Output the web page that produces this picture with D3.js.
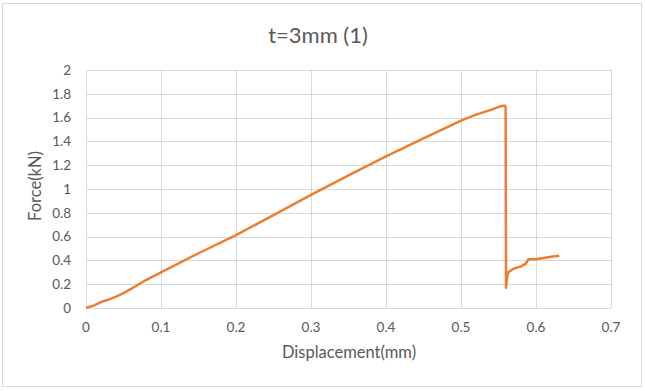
<!DOCTYPE html>
<html>
<head>
<meta charset="utf-8">
<script src="https://cdn.jsdelivr.net/npm/d3@7"></script>
<style>
  body { margin: 0; background: #fff; }
  text { font-family: Lato, "Open Sans", sans-serif; fill: #595959; }
</style>
</head>
<body>
<div id="chart"></div>
<script>
var title = "t=3mm (1)";
var xLabel = "Displacement(mm)";
var yLabel = "Force(kN)";

// displacement (mm) and force (kN)
var displacement = [0, 0.01, 0.02, 0.03, 0.04, 0.05, 0.06, 0.08, 0.10, 0.15, 0.20,
    0.25, 0.30, 0.35, 0.40, 0.45, 0.50, 0.52, 0.54, 0.55, 0.556, 0.559,
    0.5595, 0.560, 0.561, 0.563, 0.570, 0.580, 0.586, 0.590, 0.600, 0.610, 0.620, 0.631];
var force = [0, 0.02, 0.05, 0.07, 0.095, 0.125, 0.16, 0.235, 0.30, 0.46, 0.613,
    0.78, 0.95, 1.115, 1.275, 1.425, 1.575, 1.625, 1.665, 1.69, 1.70, 1.70,
    1.68, 0.17, 0.24, 0.30, 0.33, 0.35, 0.37, 0.41, 0.41, 0.42, 0.43, 0.44];

var xTicks = [0, 0.1, 0.2, 0.3, 0.4, 0.5, 0.6, 0.7];
var yTicks = [0, 0.2, 0.4, 0.6, 0.8, 1, 1.2, 1.4, 1.6, 1.8, 2];

var width = 645, height = 391;
var margin = {top: 70, right: 34, bottom: 83, left: 86};

var svg = d3.select("#chart").append("svg")
    .attr("width", width)
    .attr("height", height);

svg.append("rect")
    .attr("x", 2.5).attr("y", 3.5)
    .attr("width", 639).attr("height", 383)
    .attr("fill", "#fff")
    .attr("stroke", "#d9d9d9");

var x = d3.scaleLinear().domain([0, 0.7]).range([margin.left, width - margin.right]);
var y = d3.scaleLinear().domain([0, 2]).range([height - margin.bottom, margin.top]);

var g = svg.append("g");

// gridlines
g.selectAll(".hgrid").data(yTicks).enter().append("line")
    .attr("x1", x(0)).attr("x2", x(0.7))
    .attr("y1", function(d) { return Math.round(y(d)) + 0.5; })
    .attr("y2", function(d) { return Math.round(y(d)) + 0.5; })
    .attr("stroke", "#d9d9d9");

g.selectAll(".vgrid").data(xTicks).enter().append("line")
    .attr("y1", y(0)).attr("y2", y(2))
    .attr("x1", function(d) { return Math.round(x(d)) + 0.5; })
    .attr("x2", function(d) { return Math.round(x(d)) + 0.5; })
    .attr("stroke", "#d9d9d9");

// tick labels
g.selectAll(".ylab").data(yTicks).enter().append("text")
    .attr("x", 71)
    .attr("y", function(d) { return y(d); })
    .attr("dy", "0.35em")
    .attr("text-anchor", "end")
    .style("font-size", "13.5px")
    .text(function(d) { return d; });

g.selectAll(".xlab").data(xTicks).enter().append("text")
    .attr("x", function(d) { return x(d); })
    .attr("y", 327)
    .attr("dy", "0.35em")
    .attr("text-anchor", "middle")
    .style("font-size", "13.5px")
    .text(function(d) { return d; });

// the curve
var pts = displacement.map(function(d, i) { return [d, force[i]]; });
var line = d3.line()
    .x(function(d) { return x(d[0]); })
    .y(function(d) { return y(d[1]); });

g.append("path")
    .datum(pts)
    .attr("d", line)
    .attr("fill", "none")
    .attr("stroke", "#ed7d31")
    .attr("stroke-width", 2.5)
    .attr("stroke-linejoin", "round");

// titles
svg.append("text")
    .attr("x", 318).attr("y", 35)
    .attr("dy", "0.35em")
    .attr("text-anchor", "middle")
    .style("font-size", "22px")
    .text(title);

svg.append("text")
    .attr("x", 349).attr("y", 352)
    .attr("dy", "0.35em")
    .attr("text-anchor", "middle")
    .style("font-size", "16.5px")
    .text(xLabel);

svg.append("text")
    .attr("transform", "translate(35,186) rotate(-90)")
    .attr("dy", "0.35em")
    .attr("text-anchor", "middle")
    .style("font-size", "16.5px")
    .text(yLabel);
</script>
</body>
</html>
